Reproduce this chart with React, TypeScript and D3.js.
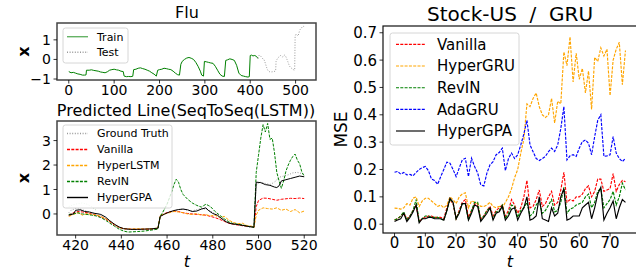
import * as d3 from "d3";

type Pt = [number, number];

// ---- Flu (top left): train + test series as (t, x) pairs
const fluTrain: Pt[] = [
  [0, -0.62], [5, -0.68], [10, -0.66], [15, -0.7], [20, -0.74], [25, -0.76], [30, -0.8],
  [35, -0.8], [38, -0.79], [39, -0.55], [45, -0.55], [50, -0.53], [55, -0.56], [60, -0.58],
  [65, -0.6], [70, -0.64], [75, -0.66], [80, -0.68], [85, -0.63], [90, -0.55], [95, -0.52],
  [100, -0.5], [105, -0.53], [110, -0.55], [115, -0.6], [120, -0.62], [122, -0.85],
  [127, -0.88], [132, -0.87], [137, -0.88], [141, -0.86], [143, -0.52], [148, -0.5],
  [153, -0.45], [158, -0.43], [163, -0.47], [168, -0.5], [173, -0.55], [178, -0.6],
  [183, -0.68], [188, -0.75], [193, -0.85], [196, -0.55], [200, -0.52], [205, -0.5],
  [210, -0.45], [215, -0.47], [220, -0.5], [225, -0.52], [230, -0.6], [235, -0.7],
  [240, -0.78], [244, -0.8], [247, -0.25], [250, -0.1], [255, 0.0], [260, 0.07], [265, 0.1],
  [270, 0.06], [275, 0.0], [280, -0.15], [285, -0.35], [290, -0.6], [293, -0.8], [297, -0.85],
  [299, -0.1], [303, -0.12], [308, -0.15], [313, -0.18], [318, -0.2], [323, -0.35],
  [328, -0.55], [333, -0.75], [338, -0.85], [343, -0.87], [346, -0.05], [350, -0.02],
  [355, 0.03], [360, 0.0], [365, -0.05], [370, -0.3], [375, -0.7], [380, -0.82], [385, -0.85],
  [390, -0.88], [395, -0.9], [398, -0.88], [400, 0.2], [403, 0.22], [406, 0.18], [410, 0.2],
  [414, 0.15], [417, 0.05],
];

// ground truth / test part, shared by both left panels
const groundTruth: Pt[] = [
  [417, 0.05], [418, 0.15], [420, 0.22], [422, 0.2], [424, 0.14], [426, 0.08], [428, 0.03],
  [430, 0.0], [432, -0.1], [434, -0.25], [436, -0.4], [438, -0.52], [440, -0.6], [443, -0.63],
  [446, -0.64], [449, -0.63], [452, -0.62], [455, -0.6], [456, -0.58], [457, -0.1], [459, 0.0],
  [461, 0.08], [463, 0.12], [465, 0.18], [467, 0.2], [469, 0.15], [471, 0.12], [473, 0.18],
  [475, 0.22], [477, 0.2], [479, 0.12], [481, 0.0], [483, -0.12], [485, -0.25], [487, -0.35],
  [489, -0.42], [491, -0.45], [493, -0.48], [495, -0.52], [497, -0.55], [498, -0.55],
  [499, 1.2], [501, 1.3], [503, 1.25], [505, 1.2], [507, 1.3], [509, 1.5], [511, 1.55],
  [513, 1.6], [515, 1.68], [517, 1.7], [519, 1.65], [520, 1.62],
];

// ---- Predicted Line (bottom left)
const predVanilla: Pt[] = [
  [417, -0.05], [419, 0.05], [421, 0.1], [423, 0.08], [425, 0.05], [427, 0.0], [429, -0.05],
  [431, -0.12], [433, -0.2], [435, -0.32], [437, -0.45], [439, -0.55], [441, -0.6], [444, -0.62],
  [447, -0.63], [450, -0.62], [453, -0.62], [456, -0.6], [457, -0.1], [459, 0.02], [461, 0.08],
  [463, 0.12], [465, 0.1], [467, 0.05], [469, 0.02], [471, 0.0], [473, -0.02], [475, -0.03],
  [477, -0.05], [479, -0.1], [481, -0.15], [483, -0.22], [485, -0.3], [487, -0.38], [489, -0.42],
  [491, -0.45], [493, -0.48], [495, -0.5], [497, -0.52], [498, -0.55], [499, 0.3], [500, 0.55],
  [502, 0.65], [504, 0.64], [506, 0.6], [508, 0.56], [510, 0.6], [512, 0.62], [514, 0.64],
  [516, 0.63], [518, 0.65], [520, 0.63],
];

const predHyperLSTM: Pt[] = [
  [417, -0.1], [419, -0.02], [421, 0.05], [423, -0.05], [425, 0.02], [427, -0.02], [429, -0.05],
  [431, -0.1], [433, -0.18], [435, -0.3], [437, -0.42], [439, -0.55], [441, -0.6], [444, -0.62],
  [447, -0.6], [450, -0.62], [453, -0.6], [456, -0.58], [457, -0.05], [459, 0.0], [461, 0.05],
  [463, 0.1], [465, 0.08], [467, 0.05], [469, 0.0], [471, -0.02], [473, 0.02], [475, -0.05],
  [477, -0.03], [479, -0.08], [481, -0.05], [483, -0.15], [485, -0.1], [487, -0.25], [489, -0.35],
  [491, -0.4], [493, -0.38], [495, -0.48], [497, -0.5], [498, -0.55], [499, -0.05], [500, 0.15],
  [502, 0.25], [504, 0.22], [506, 0.2], [508, 0.25], [510, 0.15], [512, 0.2], [514, 0.1],
  [516, 0.18], [518, 0.05], [520, 0.12],
];

const predRevIN: Pt[] = [
  [417, -0.02], [419, 0.0], [421, 0.05], [423, 0.0], [425, -0.02], [427, -0.05], [429, -0.08],
  [431, -0.15], [433, -0.25], [435, -0.38], [437, -0.5], [439, -0.62], [441, -0.7], [443, -0.74],
  [445, -0.73], [447, -0.72], [450, -0.7], [453, -0.66], [456, -0.62], [457, -0.1], [458, 0.05],
  [460, 0.4], [462, 0.9], [463, 1.2], [464, 1.42], [465, 1.3], [466, 1.0], [467, 0.8], [469, 0.6],
  [471, 0.45], [473, 0.35], [475, 0.28], [477, 0.4], [478, 0.35], [479, 0.3], [481, 0.1],
  [483, -0.05], [485, -0.2], [487, -0.32], [489, -0.4], [491, -0.42], [493, -0.45], [495, -0.5],
  [497, -0.52], [498, -0.55], [499, 1.7], [500, 2.4], [501, 3.1], [502, 3.65], [503, 3.35],
  [504, 3.7], [505, 3.05], [506, 3.1], [507, 2.5], [508, 1.7], [509, 1.35], [510, 1.05],
  [511, 1.35], [512, 1.75], [513, 2.0], [514, 2.2], [515, 2.35], [516, 2.45], [517, 2.2],
  [518, 2.05], [519, 1.7], [520, 1.55],
];

// pale green trace at the start of the window
const predRevINFaint: Pt[] = [
  [417, 0.3], [419, 0.38], [421, 0.42], [423, 0.45], [425, 0.4], [427, 0.3], [429, 0.15],
];

const predHyperGPA: Pt[] = [
  [417, -0.05], [419, 0.0], [420, 0.15], [422, 0.17], [424, 0.1], [426, 0.08], [428, 0.03],
  [430, 0.0], [431, -0.02], [433, -0.12], [435, -0.28], [437, -0.42], [439, -0.53], [441, -0.6],
  [444, -0.63], [447, -0.63], [450, -0.62], [453, -0.61], [456, -0.58], [457, -0.1], [459, 0.0],
  [461, 0.08], [463, 0.14], [465, 0.18], [467, 0.2], [469, 0.17], [471, 0.1], [473, 0.12],
  [475, 0.2], [477, 0.25], [478, 0.15], [480, 0.02], [482, -0.05], [484, -0.2], [486, -0.33],
  [488, -0.4], [490, -0.42], [492, -0.45], [494, -0.48], [496, -0.52], [498, -0.54], [499, 1.3],
  [501, 1.28], [503, 1.2], [505, 1.17], [507, 1.1], [508, 1.08], [509, 1.15], [510, 1.35],
  [512, 1.4], [514, 1.45], [516, 1.5], [518, 1.55], [520, 1.52],
];

// ---- Stock-US / GRU (right): MSE per step t = 0..75
const stockVanilla = [
  0.015, 0.02, 0.03, 0.04, 0.02, 0.03, 0.05, 0.07, 0.01, 0.02, 0.025, 0.03, 0.03, 0.025, 0.025,
  0.025, 0.02, 0.06, 0.09, 0.075, 0.02, 0.05, 0.08, 0.09, 0.025, 0.05, 0.075, 0.07, 0.02, 0.03,
  0.05, 0.065, 0.03, 0.05, 0.06, 0.07, 0.03, 0.05, 0.09, 0.07, 0.04, 0.06, 0.1, 0.16, 0.06,
  0.065, 0.09, 0.125, 0.065, 0.075, 0.1, 0.12, 0.07, 0.08, 0.125, 0.19, 0.08, 0.09, 0.085, 0.1,
  0.1, 0.11, 0.13, 0.14, 0.1, 0.12, 0.165, 0.165, 0.12, 0.125, 0.13, 0.185, 0.12, 0.145, 0.16,
  0.155,
];
const stockHyperGRU = [
  0.059, 0.058, 0.055, 0.06, 0.075, 0.07, 0.095, 0.1, 0.065, 0.085, 0.095, 0.095, 0.085, 0.075,
  0.065, 0.07, 0.06, 0.07, 0.1, 0.09, 0.075, 0.1, 0.11, 0.115, 0.06, 0.085, 0.08, 0.075, 0.065,
  0.065, 0.07, 0.08, 0.065, 0.06, 0.065, 0.06, 0.08, 0.1, 0.13, 0.17, 0.2, 0.26, 0.31, 0.44,
  0.43, 0.46, 0.48, 0.43, 0.4, 0.39, 0.4, 0.46, 0.37, 0.45, 0.44, 0.63, 0.58, 0.685, 0.52,
  0.625, 0.53, 0.57, 0.48, 0.56, 0.42, 0.61, 0.595, 0.645, 0.615, 0.64, 0.47, 0.6, 0.64, 0.665,
  0.51, 0.635,
];
const stockRevIN = [
  0.015, 0.02, 0.03, 0.045, 0.015, 0.03, 0.05, 0.09, 0.01, 0.02, 0.03, 0.03, 0.025, 0.025, 0.025,
  0.02, 0.015, 0.05, 0.09, 0.08, 0.02, 0.045, 0.075, 0.075, 0.015, 0.05, 0.08, 0.08, 0.015, 0.03,
  0.05, 0.06, 0.02, 0.045, 0.05, 0.07, 0.02, 0.04, 0.07, 0.065, 0.025, 0.05, 0.06, 0.08, 0.03,
  0.04, 0.07, 0.085, 0.04, 0.05, 0.07, 0.09, 0.045, 0.05, 0.08, 0.135, 0.04, 0.055, 0.06, 0.07,
  0.075, 0.08, 0.1, 0.11, 0.06, 0.08, 0.12, 0.13, 0.06, 0.075, 0.09, 0.12, 0.07, 0.1, 0.15, 0.125,
];
const stockAdaGRU = [
  0.19, 0.193, 0.183, 0.189, 0.18, 0.182, 0.177, 0.189, 0.2, 0.207, 0.211, 0.196, 0.165, 0.16,
  0.146, 0.174, 0.2, 0.227, 0.223, 0.2, 0.174, 0.205, 0.235, 0.241, 0.174, 0.241, 0.211, 0.187,
  0.144, 0.14, 0.187, 0.217, 0.229, 0.254, 0.262, 0.278, 0.196, 0.24, 0.26, 0.24, 0.254, 0.29,
  0.33, 0.38, 0.29, 0.265, 0.24, 0.233, 0.24, 0.248, 0.265, 0.278, 0.266, 0.29, 0.35, 0.43,
  0.235, 0.25, 0.254, 0.248, 0.278, 0.302, 0.308, 0.296, 0.254, 0.32, 0.38, 0.4, 0.248, 0.25,
  0.254, 0.32, 0.26, 0.24, 0.229, 0.241,
];
const stockHyperGPA = [
  0.01, 0.015, 0.02, 0.04, 0.01, 0.025, 0.045, 0.07, 0.005, 0.02, 0.02, 0.025, 0.025, 0.02, 0.02,
  0.02, 0.015, 0.05, 0.095, 0.08, 0.02, 0.04, 0.075, 0.075, 0.015, 0.04, 0.07, 0.065, 0.01, 0.025,
  0.04, 0.06, 0.015, 0.04, 0.045, 0.065, 0.015, 0.03, 0.055, 0.06, 0.015, 0.04, 0.06, 0.1, 0.015,
  0.02, 0.03, 0.1, 0.02, 0.015, 0.01, 0.06, 0.03, 0.04, 0.1, 0.13, 0.015, 0.02, 0.03, 0.03, 0.03,
  0.06, 0.07, 0.08, 0.02, 0.06, 0.11, 0.135, 0.015, 0.04, 0.06, 0.085, 0.02, 0.06, 0.09, 0.08,
];

const fluXTicks = [0, 100, 200, 300, 400, 500];
const fluYTicks = [-1, 0, 1];
const predXTicks = [420, 440, 460, 480, 500, 520];
const predYTicks = [0, 1, 2, 3];
const stockXTicks = [0, 10, 20, 30, 40, 50, 60, 70];
const stockYTicks = [0, 0.1, 0.2, 0.3, 0.4, 0.5, 0.6, 0.7];

const FONT = "DejaVu Sans, sans-serif";
const DASH = "3,1.3";
const DOT = "1,1.6";

interface Box { x0: number; x1: number; y0: number; y1: number }

const Axes = ({
  box, x, y, xTicks, yTicks, fmtX, fmtY, fs, spine, sw,
}: {
  box: Box;
  x: d3.ScaleLinear<number, number>;
  y: d3.ScaleLinear<number, number>;
  xTicks: number[];
  yTicks: number[];
  fmtX: (v: number) => string;
  fmtY: (v: number) => string;
  fs: number;
  spine: string;
  sw: number;
}) => (
  <g fontFamily={FONT} fontSize={fs} fill="#000">
    <rect x={box.x0} y={box.y0} width={box.x1 - box.x0} height={box.y1 - box.y0}
      fill="none" stroke={spine} strokeWidth={sw} />
    {xTicks.map((t) => (
      <g key={"x" + t}>
        <line x1={x(t)} x2={x(t)} y1={box.y1} y2={box.y1 + 3.5} stroke="#000" strokeWidth={0.8} />
        <text x={x(t)} y={box.y1 + 15} textAnchor="middle">{fmtX(t)}</text>
      </g>
    ))}
    {yTicks.map((t) => (
      <g key={"y" + t}>
        <line x1={box.x0 - 3.5} x2={box.x0} y1={y(t)} y2={y(t)} stroke="#000" strokeWidth={0.8} />
        <text x={box.x0 - 6} y={y(t)} dy="0.36em" textAnchor="end">{fmtY(t)}</text>
      </g>
    ))}
  </g>
);

interface LegendItem { label: string; color: string; dash?: string; width?: number; opacity?: number }

const Legend = ({
  x0, y0, w, h, rowY, lineX, textX, fs, lw, items,
}: {
  x0: number; y0: number; w: number; h: number; rowY: number[]; lineX: [number, number];
  textX: number; fs: number; lw: number; items: LegendItem[];
}) => (
  <g fontFamily={FONT} fontSize={fs}>
    <rect x={x0} y={y0} width={w} height={h} rx={2.5} fill="#fff" fillOpacity={0.8}
      stroke="#ccc" strokeWidth={0.8} />
    {items.map((it, i) => (
      <g key={it.label}>
        <line x1={lineX[0]} x2={lineX[1]} y1={rowY[i]} y2={rowY[i]} stroke={it.color}
          strokeWidth={lw} strokeDasharray={it.dash} strokeOpacity={it.opacity ?? 1} />
        <text x={textX} y={rowY[i]} dy="0.36em">{it.label}</text>
      </g>
    ))}
  </g>
);

export default function App() {
  const W = 636;
  const H = 271;

  const topBox: Box = { x0: 57, x1: 316, y0: 23, y1: 80 };
  const botBox: Box = { x0: 57, x1: 316, y0: 121, y1: 235 };
  const rBox: Box = { x0: 383, x1: 637, y0: 26, y1: 233 };

  const fx = d3.scaleLinear().domain([-26, 545]).range([topBox.x0, topBox.x1]);
  const fy = d3.scaleLinear().domain([-1.05, 1.86]).range([topBox.y1, topBox.y0]);
  const px = d3.scaleLinear().domain([411.85, 525.15]).range([botBox.x0, botBox.x1]);
  const py = d3.scaleLinear().domain([-0.86, 3.8]).range([botBox.y1, botBox.y0]);
  const sx = d3.scaleLinear().domain([-3.75, 78.75]).range([rBox.x0, rBox.x1]);
  const sy = d3.scaleLinear().domain([-0.0322, 0.7247]).range([rBox.y1, rBox.y0]);

  const fluLine = d3.line<Pt>().x((d) => fx(d[0])).y((d) => fy(d[1]));
  const predLine = d3.line<Pt>().x((d) => px(d[0])).y((d) => py(d[1]));
  const stockLine = d3.line<number>().x((_, i) => sx(i)).y((d) => sy(d));

  const intFmt = d3.format("d");
  const oneFmt = d3.format(".1f");

  const stockSeries = [
    { label: "Vanilla", data: stockVanilla, color: "red", dash: DASH },
    { label: "HyperGRU", data: stockHyperGRU, color: "orange", dash: DASH },
    { label: "RevIN", data: stockRevIN, color: "green", dash: DASH },
    { label: "AdaGRU", data: stockAdaGRU, color: "blue", dash: DASH },
    { label: "HyperGPA", data: stockHyperGPA, color: "black", dash: undefined },
  ];

  const predSeries = [
    { label: "Vanilla", data: predVanilla, color: "red", dash: DASH },
    { label: "HyperLSTM", data: predHyperLSTM, color: "orange", dash: DASH },
    { label: "RevIN", data: predRevIN, color: "green", dash: DASH },
    { label: "HyperGPA", data: predHyperGPA, color: "black", dash: undefined },
  ];

  return (
    <svg width={W} height={H} viewBox={`0 0 ${W} ${H}`}
      style={{ position: "absolute", left: 0, top: 0, background: "#fff" }}>
      <rect width={W} height={H} fill="#fff" />

      {/* ---------- Flu ---------- */}
      <text x={187} y={18} textAnchor="middle" fontFamily={FONT} fontSize={16}>Flu</text>
      <Axes box={topBox} x={fx} y={fy} xTicks={fluXTicks} yTicks={fluYTicks}
        fmtX={intFmt} fmtY={intFmt} fs={14} spine="#444" sw={1.5} />
      <path d={fluLine(fluTrain) ?? ""} fill="none" stroke="green" strokeWidth={1} />
      <path d={fluLine(groundTruth) ?? ""} fill="none" stroke="#999" strokeWidth={1}
        strokeDasharray={DOT} />
      <Legend x0={63} y0={28} w={65} h={35} rowY={[36.7, 52.3]} lineX={[67, 88]} textX={97}
        fs={11} lw={1.4} items={[
          { label: "Train", color: "green", opacity: 0.6 },
          { label: "Test", color: "#999", dash: DOT },
        ]} />
      <text transform="translate(23,51.5) rotate(-90)" textAnchor="middle" dy="0.36em"
        fontFamily={FONT} fontWeight="bold" fontSize={16}>x</text>

      {/* ---------- Predicted line ---------- */}
      <text x={186} y={116} textAnchor="middle" fontFamily={FONT} fontSize={16}>
        Predicted Line(SeqToSeq(LSTM))
      </text>
      <Axes box={botBox} x={px} y={py} xTicks={predXTicks} yTicks={predYTicks}
        fmtX={intFmt} fmtY={intFmt} fs={14} spine="#444" sw={1.5} />
      <g clipPath="url(#clipBot)">
        <path d={predLine(groundTruth) ?? ""} fill="none" stroke="#999" strokeWidth={1}
          strokeDasharray={DOT} />
        <path d={predLine(predRevINFaint) ?? ""} fill="none" stroke="green" strokeOpacity={0.3}
          strokeWidth={1} strokeDasharray={DOT} />
        {predSeries.map((s) => (
          <path key={s.label} d={predLine(s.data) ?? ""} fill="none" stroke={s.color}
            strokeWidth={1} strokeDasharray={s.dash} />
        ))}
      </g>
      <Legend x0={63} y0={125} w={109} h={83} rowY={[133.5, 149.5, 165.5, 181.5, 197.5]}
        lineX={[67, 88]} textX={97} fs={11} lw={1.4} items={[
          { label: "Ground Truth", color: "#999", dash: DOT },
          { label: "Vanilla", color: "red", dash: DASH },
          { label: "HyperLSTM", color: "orange", dash: DASH },
          { label: "RevIN", color: "green", dash: DASH },
          { label: "HyperGPA", color: "black" },
        ]} />
      <text transform="translate(23,178) rotate(-90)" textAnchor="middle" dy="0.36em"
        fontFamily={FONT} fontWeight="bold" fontSize={16}>x</text>
      <text x={187} y={267} textAnchor="middle" fontFamily={FONT} fontStyle="italic"
        fontSize={16}>t</text>

      {/* ---------- Stock-US / GRU ---------- */}
      <text x={510} y={21} textAnchor="middle" fontFamily={FONT} fontSize={20}
        style={{ whiteSpace: "pre" }}>{"Stock-US  /  GRU"}</text>
      <Axes box={rBox} x={sx} y={sy} xTicks={stockXTicks} yTicks={stockYTicks}
        fmtX={intFmt} fmtY={oneFmt} fs={15} spine="#111" sw={1.2} />
      {stockSeries.map((s) => (
        <path key={s.label} d={stockLine(s.data) ?? ""} fill="none" stroke={s.color}
          strokeWidth={1.15} strokeDasharray={s.dash} />
      ))}
      <Legend x0={390} y0={33} w={129} h={112} rowY={[44.3, 66, 87.7, 109.4, 131]}
        lineX={[396, 425]} textX={437} fs={15} lw={1.15}
        items={stockSeries.map((s) => ({ label: s.label, color: s.color, dash: s.dash }))} />
      <text transform="translate(341,129.5) rotate(-90)" textAnchor="middle" dy="0.36em"
        fontFamily={FONT} fontSize={17}>MSE</text>
      <text x={510} y={267} textAnchor="middle" fontFamily={FONT} fontStyle="italic"
        fontSize={16}>t</text>

      <defs>
        <clipPath id="clipBot">
          <rect x={botBox.x0} y={botBox.y0} width={botBox.x1 - botBox.x0}
            height={botBox.y1 - botBox.y0} />
        </clipPath>
      </defs>
    </svg>
  );
}
